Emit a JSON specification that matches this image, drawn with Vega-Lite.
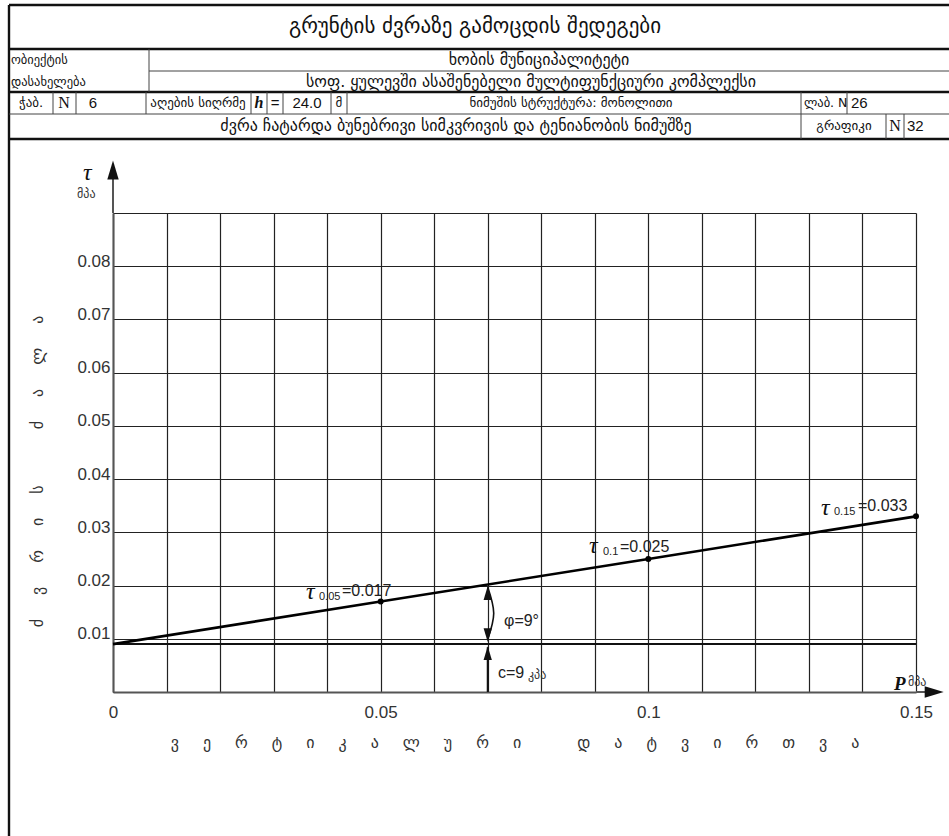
{
  "$schema": "https://vega.github.io/schema/vega-lite/v6.json",
  "padding": {"left": 7, "top": 3, "right": 0, "bottom": 0},
  "background": "white",
  "bounds": "flush",
  "spacing": 74,
  "config": {"view": {"stroke": null}, "font": "Liberation Sans"},
  "datasets": {
    "thickLines": [
      {"x": 8, "x2": 948, "y": 4, "y2": 4},
      {"x": 8, "x2": 948, "y": 48, "y2": 48},
      {"x": 8, "x2": 948, "y": 91, "y2": 91},
      {"x": 8, "x2": 948, "y": 138, "y2": 138},
      {"x": 8, "x2": 8, "y": 4, "y2": 835}
    ],
    "thinLines": [
      {"x": 148, "x2": 948, "y": 70, "y2": 70},
      {"x": 8, "x2": 948, "y": 113, "y2": 113},
      {"x": 148, "x2": 148, "y": 48, "y2": 91},
      {"x": 52, "x2": 52, "y": 91, "y2": 113},
      {"x": 75, "x2": 75, "y": 91, "y2": 113},
      {"x": 145, "x2": 145, "y": 91, "y2": 113},
      {"x": 250, "x2": 250, "y": 91, "y2": 113},
      {"x": 266, "x2": 266, "y": 91, "y2": 113},
      {"x": 282, "x2": 282, "y": 91, "y2": 113},
      {"x": 330, "x2": 330, "y": 91, "y2": 113},
      {"x": 346, "x2": 346, "y": 91, "y2": 113},
      {"x": 800, "x2": 800, "y": 91, "y2": 138},
      {"x": 846, "x2": 846, "y": 91, "y2": 113},
      {"x": 885, "x2": 885, "y": 113, "y2": 138},
      {"x": 903, "x2": 903, "y": 113, "y2": 138}
    ],
    "headerTitle": [
      {"x": 474, "y": 26, "text": "გრუნტის ძვრაზე გამოცდის შედეგები"}
    ],
    "headerLarge": [
      {"x": 538, "y": 59, "text": "ხობის მუნიციპალიტეტი"},
      {"x": 530, "y": 81, "text": "სოფ. ყულევში ასაშენებელი მულტიფუნქციური კომპლექსი"},
      {"x": 455, "y": 125, "text": "ძვრა ჩატარდა ბუნებრივი სიმკვრივის და ტენიანობის ნიმუშზე"}
    ],
    "headerCenter": [
      {"x": 30, "y": 102, "text": "ჭაბ."},
      {"x": 197, "y": 102, "text": "აღების სიღრმე"},
      {"x": 338, "y": 102, "text": "მ"},
      {"x": 570, "y": 102, "text": "ნიმუშის სტრუქტურა: მონოლითი"},
      {"x": 843, "y": 125, "text": "გრაფიკი"}
    ],
    "headerNumbers": [
      {"x": 92, "y": 102, "text": "6"},
      {"x": 274, "y": 102, "text": "="},
      {"x": 306, "y": 102, "text": "24.0"}
    ],
    "headerSerif": [
      {"x": 63, "y": 102, "text": "N"},
      {"x": 894, "y": 125, "text": "N"}
    ],
    "headerLeft": [
      {"x": 10, "y": 59, "text": "ობიექტის"},
      {"x": 10, "y": 81, "text": "დასახელება"},
      {"x": 803, "y": 102, "text": "ლაბ. N"}
    ],
    "headerLeftNumbers": [
      {"x": 850, "y": 102, "text": "26"},
      {"x": 906, "y": 125, "text": "32"}
    ],
    "headerSymbol": [
      {"x": 258, "y": 102, "text": "h"}
    ],
    "shear": [
      {"P": 0, "tau": 0.009},
      {"P": 0.05, "tau": 0.017},
      {"P": 0.1, "tau": 0.025},
      {"P": 0.15, "tau": 0.033}
    ],
    "cohesion": [{"P": 0, "P2": 0.15, "tau": 0.009, "tau2": 0.009}],
    "axisExt": [
      {"P": 0, "P2": 0, "tau": 0.09, "tau2": 0.0972},
      {"P": 0.15, "P2": 0.1525, "tau": 0, "tau2": 0}
    ],
    "cShaft": [{"P": 0.07, "P2": 0.07, "tau": 0, "tau2": 0.0084}],
    "axisArrows": [
      {"P": 0, "tau": 0.0981, "dir": "up"},
      {"P": 0.1534, "tau": 0, "dir": "right"}
    ],
    "annotArrows": [
      {"P": 0.07, "tau": 0.0186, "dir": "up"},
      {"P": 0.07, "tau": 0.0107, "dir": "down"},
      {"P": 0.07, "tau": 0.0073, "dir": "up"}
    ],
    "arc": [
      {"k": 1, "P": 0.07, "tau": 0.0197},
      {"k": 2, "P": 0.07112, "tau": 0.0148},
      {"k": 3, "P": 0.07, "tau": 0.0099}
    ],
    "tauLabels": [
      {"part": "sym", "P": 0.03605, "tau": 0.01879, "text": "τ"},
      {"part": "sub", "P": 0.03848, "tau": 0.01785, "text": "0.05"},
      {"part": "val", "P": 0.04278, "tau": 0.01898, "text": "=0.017"},
      {"part": "sym", "P": 0.08892, "tau": 0.02743, "text": "τ"},
      {"part": "sub", "P": 0.09153, "tau": 0.02631, "text": "0.1"},
      {"part": "val", "P": 0.09470, "tau": 0.02724, "text": "=0.025"},
      {"part": "sym", "P": 0.13225, "tau": 0.03457, "text": "τ"},
      {"part": "sub", "P": 0.13468, "tau": 0.03382, "text": "0.15"},
      {"part": "val", "P": 0.13917, "tau": 0.03495, "text": "=0.033"},
      {"part": "sym", "P": -0.0056, "tau": 0.09752, "text": "τ"}
    ],
    "notes": [
      {"P": 0.07304, "tau": 0.01334, "text": "φ=9°"},
      {"P": 0.07192, "tau": 0.00357, "text": "c=9"}
    ],
    "units": [
      {"P": 0.07752, "tau": 0.00319, "text": "კპა"},
      {"P": 0.1485, "tau": 0.00188, "text": "მპა"},
      {"P": -0.00672, "tau": 0.09357, "text": "მპა"}
    ],
    "pLabel": [{"P": 0.14589, "tau": 0.0015, "text": "P"}]
  },
  "vconcat": [
    {
      "width": 803,
      "height": 134,
      "encoding": {
        "x": {"field": "x", "type": "quantitative", "scale": {"domain": [8, 948], "range": [-104, 836], "nice": false, "zero": false}, "axis": null},
        "y": {"field": "y", "type": "quantitative", "scale": {"domain": [4, 835], "range": [0, 831], "nice": false, "zero": false}, "axis": null}
      },
      "layer": [
        {
          "data": {"name": "thickLines"},
          "mark": {"type": "rule", "color": "#111", "strokeWidth": 2.4},
          "encoding": {"x2": {"field": "x2"}, "y2": {"field": "y2"}}
        },
        {
          "data": {"name": "thinLines"},
          "mark": {"type": "rule", "color": "#444", "strokeWidth": 1},
          "encoding": {"x2": {"field": "x2"}, "y2": {"field": "y2"}}
        },
        {
          "data": {"name": "headerTitle"},
          "mark": {"type": "text", "font": "DejaVu Sans", "fontSize": 21, "color": "#111", "align": "center", "baseline": "middle"},
          "encoding": {"text": {"field": "text"}}
        },
        {
          "data": {"name": "headerLarge"},
          "mark": {"type": "text", "font": "DejaVu Sans", "fontSize": 16, "color": "#111", "align": "center", "baseline": "middle"},
          "encoding": {"text": {"field": "text"}}
        },
        {
          "data": {"name": "headerCenter"},
          "mark": {"type": "text", "font": "DejaVu Sans", "fontSize": 13, "color": "#111", "align": "center", "baseline": "middle"},
          "encoding": {"text": {"field": "text"}}
        },
        {
          "data": {"name": "headerNumbers"},
          "mark": {"type": "text", "font": "Liberation Sans", "fontSize": 15, "color": "#111", "align": "center", "baseline": "middle"},
          "encoding": {"text": {"field": "text"}}
        },
        {
          "data": {"name": "headerSerif"},
          "mark": {"type": "text", "font": "Liberation Serif", "fontSize": 16, "color": "#111", "align": "center", "baseline": "middle"},
          "encoding": {"text": {"field": "text"}}
        },
        {
          "data": {"name": "headerLeft"},
          "mark": {"type": "text", "font": "DejaVu Sans", "fontSize": 12.5, "color": "#111", "align": "left", "baseline": "middle"},
          "encoding": {"text": {"field": "text"}}
        },
        {
          "data": {"name": "headerLeftNumbers"},
          "mark": {"type": "text", "font": "Liberation Sans", "fontSize": 15, "color": "#111", "align": "left", "baseline": "middle"},
          "encoding": {"text": {"field": "text"}}
        },
        {
          "data": {"name": "headerSymbol"},
          "mark": {"type": "text", "font": "Liberation Serif", "fontSize": 16, "fontStyle": "italic", "fontWeight": "bold", "color": "#111", "align": "center", "baseline": "middle"},
          "encoding": {"text": {"field": "text"}}
        }
      ]
    },
    {
      "width": 803,
      "height": 479,
      "encoding": {
        "x": {
          "field": "P", "type": "quantitative",
          "scale": {"domain": [0, 0.15], "nice": false, "zero": false},
          "axis": {
            "values": [0, 0.01, 0.02, 0.03, 0.04, 0.05, 0.06, 0.07, 0.08, 0.09, 0.1, 0.11, 0.12, 0.13, 0.14, 0.15],
            "labelExpr": "abs(datum.value*20 - round(datum.value*20)) < 0.001 ? format(datum.value, '~g') : ''",
            "grid": true, "gridColor": "#222", "gridWidth": 1.2, "gridOpacity": 1,
            "ticks": false, "domainColor": "#555", "domainWidth": 2,
            "labelFont": "Liberation Sans", "labelFontSize": 17, "labelColor": "#333", "labelPadding": 12,
            "labelFlush": false, "labelOverlap": false,
            "title": "ვ\u2003\u2002ე\u2003\u2002რ\u2003\u2002ტ\u2003\u2002ი\u2003\u2002კ\u2003\u2002ა\u2003\u2002ლ\u2003\u2002უ\u2003\u2002რ\u2003\u2002ი\u2003\u2003\u2003\u2002დ\u2003\u2002ა\u2003\u2002ტ\u2003\u2002ვ\u2003\u2002ი\u2003\u2002რ\u2003\u2002თ\u2003\u2002ვ\u2003\u2002ა",
            "titleFont": "DejaVu Sans", "titleFontSize": 16, "titleFontWeight": "normal", "titleColor": "#333", "titlePadding": 14
          }
        },
        "y": {
          "field": "tau", "type": "quantitative",
          "scale": {"domain": [0, 0.09], "nice": false, "zero": false},
          "axis": {
            "values": [0, 0.01, 0.02, 0.03, 0.04, 0.05, 0.06, 0.07, 0.08, 0.09],
            "labelExpr": "datum.value > 0.005 && datum.value < 0.085 ? format(datum.value, '.2f') : ''",
            "grid": true, "gridColor": "#222", "gridWidth": 1.2, "gridOpacity": 1,
            "ticks": false, "domainColor": "#555", "domainWidth": 2,
            "labelFont": "Liberation Sans", "labelFontSize": 17, "labelColor": "#333", "labelPadding": 3,
            "labelBaseline": "alphabetic", "labelFlush": false, "labelOverlap": false,
            "title": "ძ\u2003\u2002ვ\u2003\u2002რ\u2003\u2002ი\u2003\u2002ს\u2003\u2003\u2003\u2002ძ\u2003\u2002ა\u2003\u2002ლ\u2003\u2002ა",
            "titleFont": "DejaVu Sans", "titleFontSize": 16, "titleFontWeight": "normal", "titleColor": "#333",
            "titleX": -76, "titleY": 258, "titleAngle": -90, "titleAlign": "center", "titleBaseline": "middle"
          }
        }
      },
      "layer": [
        {
          "data": {"name": "cohesion"},
          "mark": {"type": "rule", "color": "#111", "strokeWidth": 2},
          "encoding": {"x2": {"field": "P2"}, "y2": {"field": "tau2"}}
        },
        {
          "data": {"name": "axisExt"},
          "mark": {"type": "rule", "color": "#555", "strokeWidth": 2},
          "encoding": {"x2": {"field": "P2"}, "y2": {"field": "tau2"}}
        },
        {
          "data": {"name": "cShaft"},
          "mark": {"type": "rule", "color": "#111", "strokeWidth": 2},
          "encoding": {"x2": {"field": "P2"}, "y2": {"field": "tau2"}}
        },
        {
          "data": {"name": "shear"},
          "mark": {"type": "line", "color": "#000", "strokeWidth": 2.6},
          "encoding": {}
        },
        {
          "data": {"name": "shear"},
          "transform": [{"filter": "datum.P > 0"}],
          "mark": {"type": "point", "filled": true, "color": "#000", "opacity": 1, "size": 36},
          "encoding": {}
        },
        {
          "data": {"name": "arc"},
          "mark": {"type": "line", "color": "#111", "strokeWidth": 1.6, "interpolate": "natural"},
          "encoding": {"order": {"field": "k", "type": "quantitative"}}
        },
        {
          "data": {"name": "axisArrows"},
          "mark": {"type": "point", "filled": true, "color": "#111", "opacity": 1, "size": 360},
          "encoding": {
            "shape": {"field": "dir", "type": "nominal", "scale": {"domain": ["up", "down", "right"], "range": ["M0,-1L0.6,1L-0.6,1Z", "M0,1L0.6,-1L-0.6,-1Z", "M1,0L-1,-0.6L-1,0.6Z"]}, "legend": null}
          }
        },
        {
          "data": {"name": "annotArrows"},
          "mark": {"type": "point", "filled": true, "color": "#111", "opacity": 1, "size": 190},
          "encoding": {
            "shape": {"field": "dir", "type": "nominal", "scale": {"domain": ["up", "down", "right"], "range": ["M0,-1L0.6,1L-0.6,1Z", "M0,1L0.6,-1L-0.6,-1Z", "M1,0L-1,-0.6L-1,0.6Z"]}, "legend": null}
          }
        },
        {
          "data": {"name": "tauLabels"},
          "transform": [{"filter": "datum.part == 'sym'"}],
          "mark": {"type": "text", "font": "Liberation Serif", "fontStyle": "italic", "fontSize": 24, "color": "#111", "align": "left", "baseline": "middle"},
          "encoding": {"text": {"field": "text"}}
        },
        {
          "data": {"name": "tauLabels"},
          "transform": [{"filter": "datum.part == 'sub'"}],
          "mark": {"type": "text", "font": "Liberation Sans", "fontSize": 11, "color": "#222", "align": "left", "baseline": "middle"},
          "encoding": {"text": {"field": "text"}}
        },
        {
          "data": {"name": "tauLabels"},
          "transform": [{"filter": "datum.part == 'val'"}],
          "mark": {"type": "text", "font": "Liberation Sans", "fontSize": 16, "color": "#222", "align": "left", "baseline": "middle"},
          "encoding": {"text": {"field": "text"}}
        },
        {
          "data": {"name": "notes"},
          "mark": {"type": "text", "font": "Liberation Sans", "fontSize": 16, "color": "#222", "align": "left", "baseline": "middle"},
          "encoding": {"text": {"field": "text"}}
        },
        {
          "data": {"name": "units"},
          "mark": {"type": "text", "font": "DejaVu Sans", "fontSize": 12, "color": "#333", "align": "left", "baseline": "middle"},
          "encoding": {"text": {"field": "text"}}
        },
        {
          "data": {"name": "pLabel"},
          "mark": {"type": "text", "font": "Liberation Serif", "fontStyle": "italic", "fontWeight": "bold", "fontSize": 19, "color": "#111", "align": "left", "baseline": "middle"},
          "encoding": {"text": {"field": "text"}}
        }
      ]
    }
  ]
}
